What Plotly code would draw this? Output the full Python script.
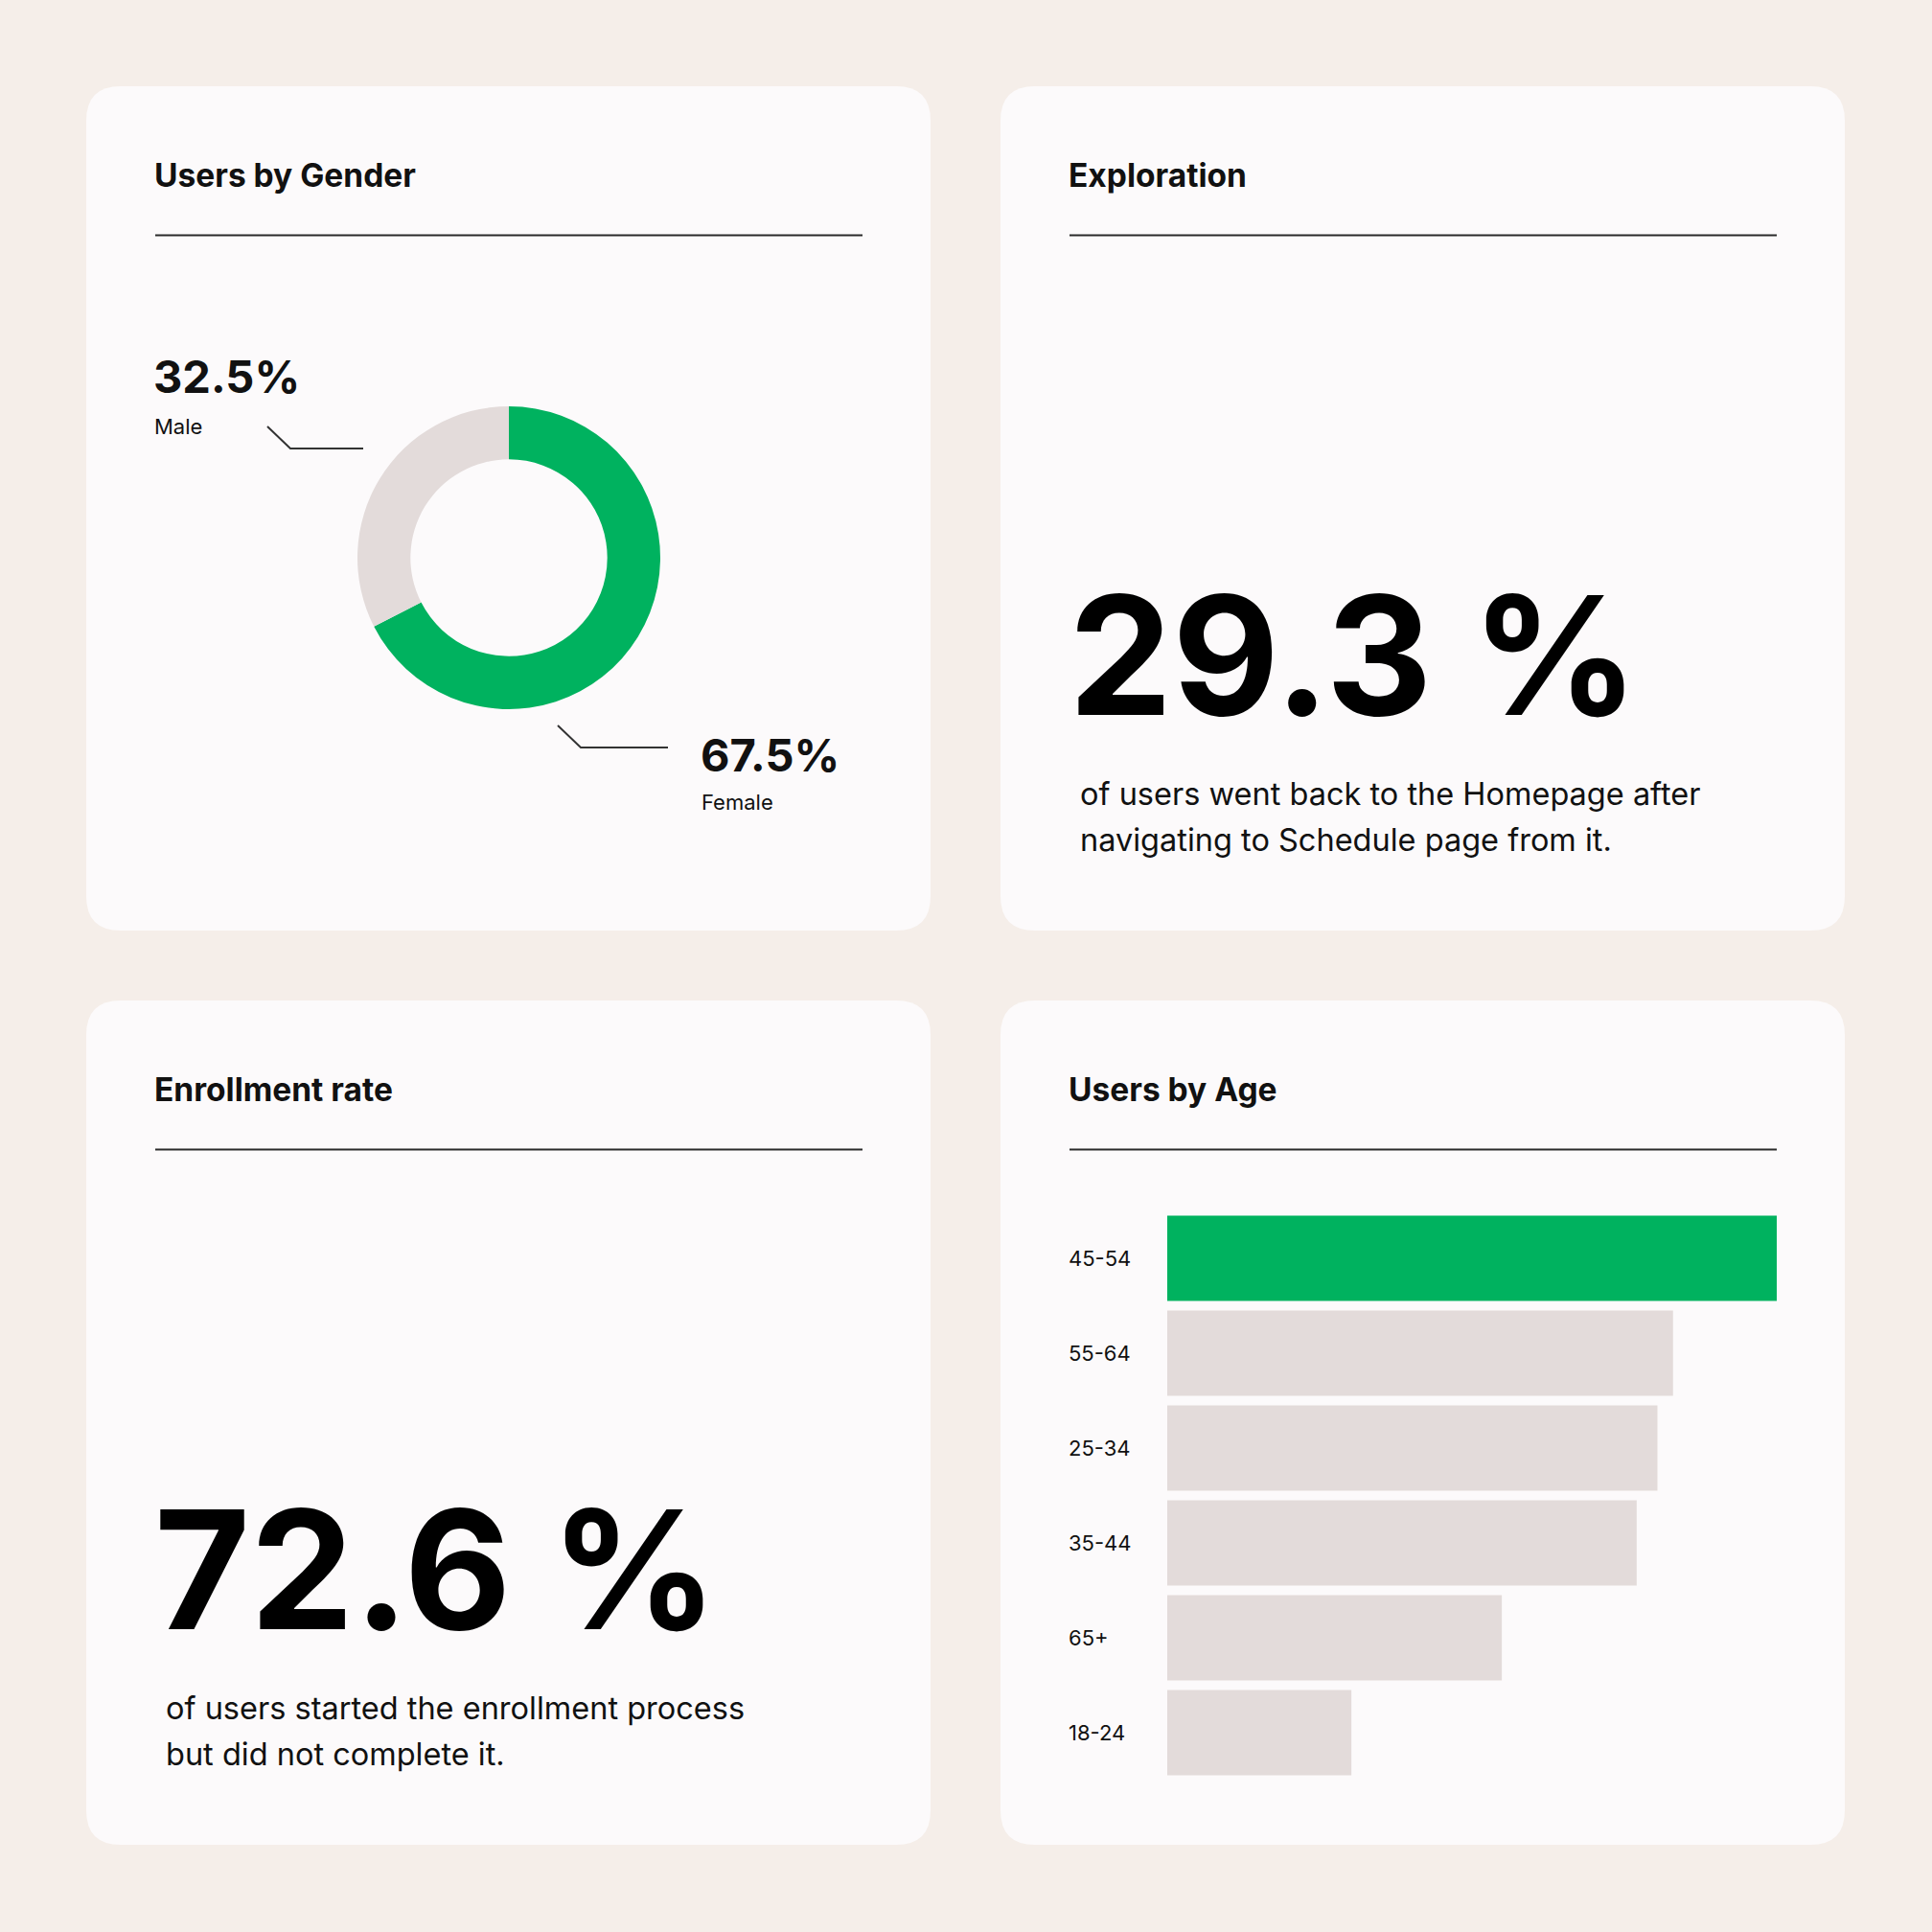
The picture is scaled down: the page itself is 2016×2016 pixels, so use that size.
import plotly.graph_objects as go

# ---------------- data ----------------
gender_labels = ["Female", "Male"]
gender_values = [67.5, 32.5]

exploration_value = 29.3
exploration_text = ["of users went back to the Homepage after",
                    "navigating to Schedule page from it."]

enrollment_value = 72.6
enrollment_text = ["of users started the enrollment process",
                   "but did not complete it."]

age_groups = ["45-54", "55-64", "25-34", "35-44", "65+", "18-24"]
age_values = [23.5, 19.5, 18.9, 18.1, 12.9, 7.1]

card_titles = ["Users by Gender", "Exploration", "Enrollment rate", "Users by Age"]

# ---------------- style ----------------
W = H = 2016
BG = "#F5EEE9"
CARD = "#FCFAFB"
GREEN = "#00B25F"
GREY = "#E3DBDA"
INK = "#111111"
FONT = "Inter"
DX = -3  # annotation padding compensation


def px(x):
    return x / W


def py(y):
    return 1 - y / H


def rounded_rect(x0, y0, x1, y1, r):
    X0, X1 = px(x0), px(x1)
    Y0, Y1 = py(y0), py(y1)
    rx, ry = r / W, r / H
    return (f"M{X0+rx},{Y0} L{X1-rx},{Y0} Q{X1},{Y0} {X1},{Y0-ry} "
            f"L{X1},{Y1+ry} Q{X1},{Y1} {X1-rx},{Y1} L{X0+rx},{Y1} "
            f"Q{X0},{Y1} {X0},{Y1+ry} L{X0},{Y0-ry} Q{X0},{Y0} {X0+rx},{Y0} Z")


fig = go.Figure()
shapes = []
annotations = []

cards = [(90, 90, 971, 971), (1044, 90, 1925, 971),
         (90, 1044, 971, 1925), (1044, 1044, 1925, 1925)]
for (x0, y0, x1, y1), title in zip(cards, card_titles):
    shapes.append(dict(type="path", xref="paper", yref="paper",
                       path=rounded_rect(x0, y0, x1, y1, 36),
                       fillcolor=CARD, line=dict(width=0), layer="below"))
    tx = x0 + 72
    annotations.append(dict(x=px(tx + DX), y=py(y0 + 93), xref="paper", yref="paper",
                            text=title, showarrow=False, xanchor="left", yanchor="middle",
                            font=dict(family=FONT, size=33.5, color=INK, weight=700)))
    shapes.append(dict(type="line", xref="paper", yref="paper",
                       x0=px(tx), x1=px(x1 - 71), y0=py(y0 + 155.5), y1=py(y0 + 155.5),
                       line=dict(color="#2A2A2A", width=2)))

# ---------------- donut ----------------
cx, cy, R = 531, 582, 158
fig.add_trace(go.Pie(
    labels=gender_labels, values=gender_values, hole=0.65, sort=False,
    direction="clockwise", rotation=0, textinfo="none", hoverinfo="label+percent",
    marker=dict(colors=[GREEN, GREY], line=dict(width=0)),
    domain=dict(x=[px(cx - R), px(cx + R)], y=[py(cy + R), py(cy - R)]),
    showlegend=False))

# Male label (top-left)
annotations.append(dict(x=px(161 + DX), y=py(393), xref="paper", yref="paper",
                        text=f"{gender_values[1]}%", showarrow=False, xanchor="left",
                        yanchor="middle", font=dict(family=FONT, size=47, color=INK, weight=700)))
annotations.append(dict(x=px(162 + DX), y=py(445), xref="paper", yref="paper",
                        text=gender_labels[1], showarrow=False, xanchor="left",
                        yanchor="middle", font=dict(family=FONT, size=22, color=INK)))
# Female label (bottom-right)
annotations.append(dict(x=px(732 + DX), y=py(787), xref="paper", yref="paper",
                        text=f"{gender_values[0]}%", showarrow=False, xanchor="left",
                        yanchor="middle", font=dict(family=FONT, size=47, color=INK, weight=700)))
annotations.append(dict(x=px(733 + DX), y=py(837), xref="paper", yref="paper",
                        text=gender_labels[0], showarrow=False, xanchor="left",
                        yanchor="middle", font=dict(family=FONT, size=22, color=INK)))

for pts in [[(279, 445), (303, 468), (379, 468)], [(582, 757), (606, 780), (697, 780)]]:
    path = "M" + " L".join(f"{px(a)},{py(b)}" for a, b in pts)
    shapes.append(dict(type="path", xref="paper", yref="paper", path=path,
                       line=dict(color="#333333", width=2)))

# ---------------- big numbers ----------------
for val, lines, x_num, y_num, x_txt, y_txt in [
        (exploration_value, exploration_text, 1116, 683, 1128, 828),
        (enrollment_value, enrollment_text, 162, 1637, 174, 1782)]:
    annotations.append(dict(x=px(x_num + DX), y=py(y_num), xref="paper", yref="paper",
                            text=f"{val} %", showarrow=False, xanchor="left", yanchor="middle",
                            font=dict(family=FONT, size=172, color="#000000", weight=700)))
    for i, ln in enumerate(lines):
        annotations.append(dict(x=px(x_txt + DX), y=py(y_txt + 48 * i), xref="paper", yref="paper",
                                text=ln, showarrow=False, xanchor="left", yanchor="middle",
                                font=dict(family=FONT, size=32.5, color=INK)))

# ---------------- age bars ----------------
bar_colors = [GREEN if v == max(age_values) else GREY for v in age_values]
fig.add_trace(go.Bar(
    x=age_values, y=age_groups, orientation="h", marker=dict(color=bar_colors, line=dict(width=0)),
    xaxis="x", yaxis="y", showlegend=False, hoverinfo="x+y"))

for g in age_groups:
    annotations.append(dict(x=px(1116 + DX), y=g, xref="paper", yref="y", text=g,
                            showarrow=False, xanchor="left", yanchor="middle",
                            font=dict(family=FONT, size=22, color=INK)))

fig.update_layout(
    width=W, height=H, margin=dict(l=0, r=0, t=0, b=0),
    paper_bgcolor=BG, plot_bgcolor="rgba(0,0,0,0)",
    bargap=0.1,
    xaxis=dict(domain=[px(1218), px(1854)], range=[0, max(age_values)], visible=False,
               fixedrange=True),
    yaxis=dict(domain=[py(1857.5), py(1263.5)], categoryorder="array",
               categoryarray=age_groups, autorange="reversed", visible=False, fixedrange=True),
    shapes=shapes, annotations=annotations,
)

fig.write_html("out.html")
